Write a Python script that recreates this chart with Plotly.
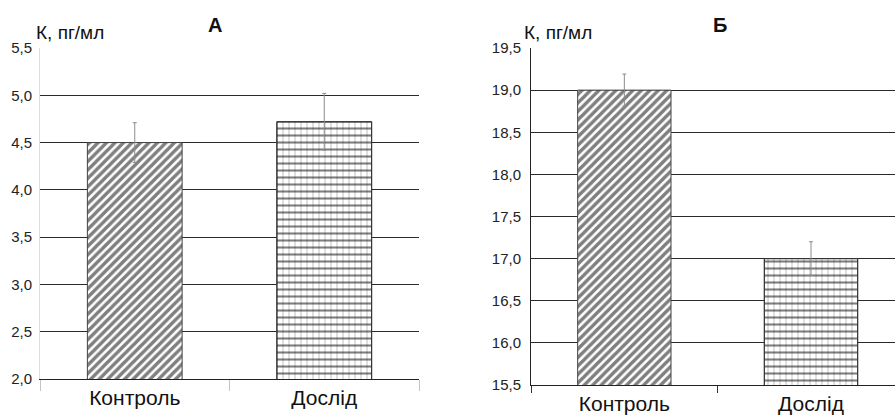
import plotly.graph_objects as go

categories = ["Контроль", "Дослід"]
values_a = [4.5, 4.72]
err_a = [0.21, 0.3]
values_b = [19.0, 17.0]
err_b = [0.19, 0.2]
y_title = "К, пг/мл"
panel_titles = ["А", "Б"]

W, H = 895, 420
FONT = "Liberation Sans, Arial, sans-serif"

def px(x):
    return x / W

def py(y):
    return 1 - y / H

fig = go.Figure()

def add_panel(vals, errs, xa, ya):
    # base layer: diagonal hatch for control, light vertical lines for experiment
    fig.add_trace(go.Bar(
        x=categories, y=vals, xaxis=xa, yaxis=ya, width=0.5,
        marker=dict(color="white",
                    line=dict(color="#444", width=1),
                    pattern=dict(shape=["/", "|"], fgcolor=["#000000", "#8a8a8a"],
                                 bgcolor="white", size=[6, 6], solidity=[0.58, 0.18],
                                 fillmode="overlay")),
        showlegend=False, hoverinfo="skip"))
    # overlay: horizontal brick lines for experiment + error bars
    fig.add_trace(go.Bar(
        x=categories, y=vals, xaxis=xa, yaxis=ya, width=0.5,
        marker=dict(color="rgba(0,0,0,0)",
                    line=dict(color=["rgba(0,0,0,0)", "#333"], width=1),
                    pattern=dict(shape=["", "-"], fgcolor="#000000",
                                 bgcolor="rgba(0,0,0,0)", size=7, solidity=0.3)),
        error_y=dict(type="data", array=errs, visible=True,
                     color="#8c8c8c", thickness=1, width=2),
        showlegend=False, hoverinfo="skip"))

add_panel(values_a, err_a, "x", "y")
add_panel(values_b, err_b, "x2", "y2")

axis_font = dict(family=FONT, size=15, color="#222")
cat_font = dict(family=FONT, size=21, color="#111")

fig.update_layout(
    width=W, height=H,
    margin=dict(l=0, r=0, t=0, b=0),
    paper_bgcolor="white", plot_bgcolor="white",
    barmode="overlay",
    separators=", ",
    xaxis=dict(domain=[px(40), px(419)], range=[-0.5, 1.5], type="category",
               showline=True, linecolor="#222", linewidth=1, automargin=False,
               ticks="outside", tickson="boundaries", ticklen=11, tickcolor="#c4c4c4",
               tickfont=cat_font, showgrid=False, fixedrange=True, anchor="y"),
    yaxis=dict(domain=[py(379), py(48)], range=[2.0, 5.5], dtick=0.5,
               tickformat=".1f", showgrid=True, gridcolor="#2a2a2a", gridwidth=1,
               showline=True, linecolor="#dddddd", linewidth=1, zeroline=False,
               automargin=False, ticks="", ticklabelstandoff=4,
               tickfont=axis_font, anchor="x"),
    xaxis2=dict(domain=[px(531), 1.0], range=[-0.5, 1.45], type="category",
                showline=True, linecolor="#222", linewidth=1, automargin=False,
                ticks="outside", tickson="boundaries", ticklen=7, tickcolor="#333",
                tickfont=cat_font, showgrid=False, fixedrange=True, anchor="y2"),
    yaxis2=dict(domain=[py(385), py(48)], range=[15.5, 19.5], dtick=0.5,
                tickformat=".1f", showgrid=True, gridcolor="#2a2a2a", gridwidth=1,
                showline=True, linecolor="#222", linewidth=1, zeroline=False,
                automargin=False, ticks="", ticklabelstandoff=6,
                tickfont=axis_font, anchor="x2"),
    annotations=[
        dict(text=y_title, x=px(34), y=py(33), xref="paper", yref="paper",
             xanchor="left", yanchor="middle", showarrow=False,
             font=dict(family=FONT, size=19, color="#111")),
        dict(text=y_title, x=px(522), y=py(33), xref="paper", yref="paper",
             xanchor="left", yanchor="middle", showarrow=False,
             font=dict(family=FONT, size=19, color="#111")),
        dict(text="<b>" + panel_titles[0] + "</b>", x=px(215), y=py(25),
             xref="paper", yref="paper", xanchor="center", yanchor="middle",
             showarrow=False, font=dict(family=FONT, size=20, color="#111")),
        dict(text="<b>" + panel_titles[1] + "</b>", x=px(720), y=py(25),
             xref="paper", yref="paper", xanchor="center", yanchor="middle",
             showarrow=False, font=dict(family=FONT, size=20, color="#111")),
    ],
)

fig.write_html("out.html",
               config={"displayModeBar": False, "staticPlot": True},
               post_script="document.body.style.margin='0';"
                           "document.body.style.overflow='hidden';")
